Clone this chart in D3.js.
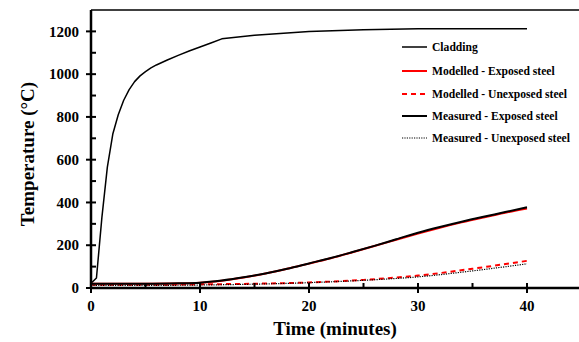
<!DOCTYPE html>
<html>
<head>
<meta charset="utf-8">
<script src="https://cdn.jsdelivr.net/npm/d3@7"></script>
<style>
body { margin: 0; background: #fff; }
svg { display: block; }
text { font-family: "Liberation Serif", "Times New Roman", Times, serif; font-weight: bold; }
</style>
</head>
<body>
<div id="chart"></div>
<script>
var width = 579;
var height = 342;
var margin = {top: 10, left: 91, bottom: 54};

// data (time in minutes, temperature in degC)
var claddingTime = [0, 0.5, 1, 1.5, 2, 2.5, 3, 3.5, 4, 4.5, 5, 5.5, 6, 7, 8, 9, 10, 11, 12, 15, 20, 25, 30, 35, 40];
var claddingTemp = [22, 47, 330, 565, 720, 810, 878, 928, 965, 992, 1012, 1029, 1043, 1066, 1088, 1108, 1127, 1146, 1165, 1182, 1200, 1208, 1212, 1212, 1212];

var steelTime = [0, 5, 8, 10, 12, 14, 16, 18, 20, 22, 24, 26, 28, 30, 32, 34, 36, 38, 40];
var measuredExposed = [20, 20, 22, 25, 35, 50, 68, 90, 115, 140, 168, 197, 228, 258, 285, 310, 333, 355, 378];
var modelledExposed = [20, 20, 21, 24, 34, 49, 68, 90, 114, 139, 167, 196, 226, 255, 282, 307, 330, 352, 372];

var unexposedTime = [0, 5, 10, 15, 20, 25, 30, 35, 40];
var modelledUnexposed = [15, 15, 17, 20, 26, 38, 58, 90, 127];
var measuredUnexposed = [12, 12, 14, 18, 25, 36, 52, 80, 113];

var xTicks = [0, 10, 20, 30, 40];
var xMinor = [5, 15, 25, 35];
var yTicks = [0, 200, 400, 600, 800, 1000, 1200];
var yMinor = [100, 300, 500, 700, 900, 1100];

var series = [
	{name: "Cladding", x: claddingTime, y: claddingTemp, color: "#000", dash: null, w: 1.5, smooth: false},
	{name: "Modelled - Exposed steel", x: steelTime, y: modelledExposed, color: "#ff0000", dash: null, w: 2, smooth: true},
	{name: "Modelled - Unexposed steel", x: unexposedTime, y: modelledUnexposed, color: "#ff0000", dash: "5,4", w: 2, smooth: true},
	{name: "Measured - Exposed steel", x: steelTime, y: measuredExposed, color: "#000", dash: null, w: 2, smooth: true},
	{name: "Measured - Unexposed steel", x: unexposedTime, y: measuredUnexposed, color: "#000", dash: "1.2,1.2", w: 1.2, smooth: true}
];

var x = d3.scaleLinear().domain([0, 45]).range([margin.left, margin.left + 45 * 10.9]);
var y = d3.scaleLinear().domain([0, 1300]).range([height - margin.bottom, margin.top]);

var svg = d3.select("#chart").append("svg")
	.attr("width", width)
	.attr("height", height);

// top frame line
svg.append("line")
	.attr("x1", x(0)).attr("x2", width)
	.attr("y1", y(1300)).attr("y2", y(1300))
	.attr("stroke", "#000").attr("stroke-width", 1.5);

function makeLine(smooth) {
	return d3.line()
		.x(function(d) { return x(d[0]); })
		.y(function(d) { return y(d[1]); })
		.curve(smooth ? d3.curveMonotoneX : d3.curveLinear);
}

// modelled first, measured on top
var order = [0, 1, 2, 4, 3];
order.forEach(function(i) {
	var s = series[i];
	var pts = s.x.map(function(t, k) { return [t, s.y[k]]; });
	svg.append("path")
		.attr("d", makeLine(s.smooth)(pts))
		.attr("fill", "none")
		.attr("stroke", s.color)
		.attr("stroke-width", s.w)
		.attr("stroke-linejoin", "round")
		.attr("stroke-dasharray", s.dash);
});

// axes
var xAxis = svg.append("g").attr("transform", "translate(0," + y(0) + ")");
xAxis.append("line").attr("x1", x(0)).attr("x2", width).attr("stroke", "#000").attr("stroke-width", 2.5);
xAxis.selectAll(".maj").data(xTicks).enter().append("line")
	.attr("x1", function(d) { return x(d); }).attr("x2", function(d) { return x(d); })
	.attr("y1", -5).attr("y2", 5).attr("stroke", "#000").attr("stroke-width", 2);
xAxis.selectAll(".min").data(xMinor).enter().append("line")
	.attr("x1", function(d) { return x(d); }).attr("x2", function(d) { return x(d); })
	.attr("y1", -5).attr("y2", 0).attr("stroke", "#000").attr("stroke-width", 2);
xAxis.selectAll("text").data(xTicks).enter().append("text")
	.attr("x", function(d) { return x(d); })
	.attr("y", 23)
	.attr("text-anchor", "middle")
	.attr("font-size", 15)
	.text(function(d) { return d; });

var yAxis = svg.append("g").attr("transform", "translate(" + x(0) + ",0)");
yAxis.append("line").attr("y1", y(1300)).attr("y2", y(0)).attr("stroke", "#000").attr("stroke-width", 2.5);
yAxis.selectAll(".maj").data(yTicks).enter().append("line")
	.attr("y1", function(d) { return y(d); }).attr("y2", function(d) { return y(d); })
	.attr("x1", -5).attr("x2", 5).attr("stroke", "#000").attr("stroke-width", 2);
yAxis.selectAll(".min").data(yMinor).enter().append("line")
	.attr("y1", function(d) { return y(d); }).attr("y2", function(d) { return y(d); })
	.attr("x1", 0).attr("x2", 5).attr("stroke", "#000").attr("stroke-width", 2);
yAxis.selectAll("text").data(yTicks).enter().append("text")
	.attr("x", -12)
	.attr("y", function(d) { return y(d); })
	.attr("dy", "0.35em")
	.attr("text-anchor", "end")
	.attr("font-size", 15)
	.text(function(d) { return d; });

// titles
svg.append("text")
	.attr("x", 335).attr("y", 335)
	.attr("text-anchor", "middle")
	.attr("font-size", 19)
	.text("Time (minutes)");

svg.append("text")
	.attr("transform", "translate(34,154) rotate(-90)")
	.attr("text-anchor", "middle")
	.attr("font-size", 19)
	.text("Temperature (°C)");

// legend
var legendY = [47, 71, 94, 116, 138];
var legend = svg.selectAll(".legend").data(series).enter().append("g")
	.attr("transform", function(d, i) { return "translate(402," + legendY[i] + ")"; });
legend.append("line")
	.attr("x1", 0).attr("x2", 25)
	.attr("stroke", function(d) { return d.color; })
	.attr("stroke-width", function(d) { return d.w; })
	.attr("stroke-dasharray", function(d) { return d.dash; });
legend.append("text")
	.attr("x", 30)
	.attr("dy", "0.35em")
	.attr("font-size", 11.6)
	.text(function(d) { return d.name; });
</script>
</body>
</html>
